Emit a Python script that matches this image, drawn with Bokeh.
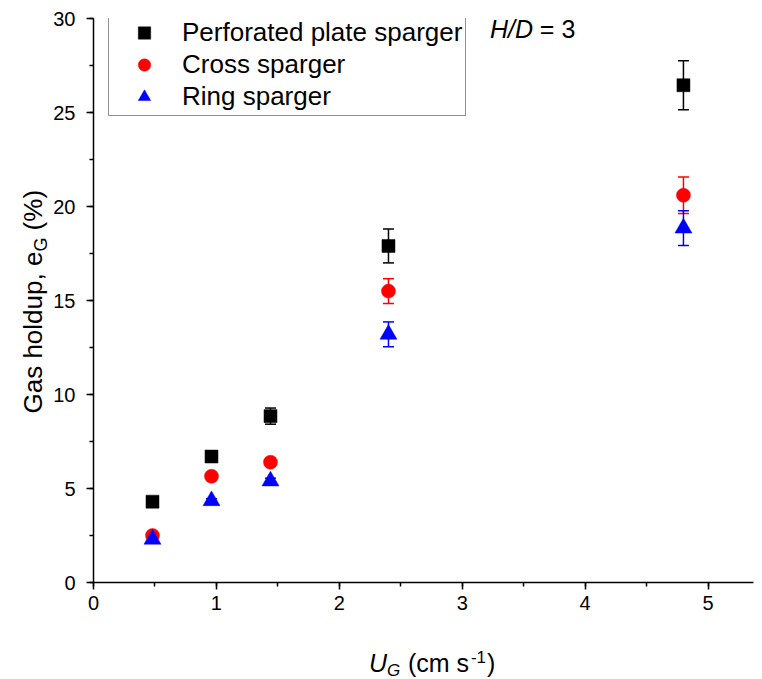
from bokeh.plotting import figure
from bokeh.models import (ColumnDataSource, Whisker, TeeHead, Range1d, Label,
                          SingleIntervalTicker, Legend)
from bokeh.layouts import row, column
from bokeh.embed import file_html
from bokeh.resources import INLINE
import math

# ---- data ----
ug = [0.48, 0.96, 1.44, 2.4, 4.8]
perforated = [4.3, 6.7, 8.85, 17.9, 26.45]
perforated_err = [0.15, 0.2, 0.43, 0.9, 1.3]
cross = [2.5, 5.65, 6.4, 15.5, 20.6]
cross_err = [0.1, 0.15, 0.2, 0.66, 0.97]
ring = [2.3, 4.35, 5.4, 13.2, 18.85]
ring_err = [0.15, 0.1, 0.15, 0.66, 0.93]
series_names = ["Perforated plate sparger", "Cross sparger", "Ring sparger"]

FONT = "Liberation Sans"
NB = "\u00a0"
FIX = 0.36                       # observed baseline offset of labels (em)
TOTAL_W, TOTAL_H = 762, 679
YLAB_W = 50                      # strip for the y-axis title
MAIN_W = TOTAL_W - YLAB_W
MAIN_H = 622
XLAB_H = TOTAL_H - MAIN_H        # strip for the x-axis title
BL, BR, BT = 42, 9, 18
BB = MAIN_H - 582
XMAX, YMAX = 5.37, 30
FRAME_LEFT = YLAB_W + BL         # page x of the plot frame's left edge

p = figure(width=MAIN_W, height=MAIN_H, output_backend="svg",
           toolbar_location=None,
           x_range=Range1d(0, XMAX), y_range=Range1d(0, YMAX),
           min_border_left=BL, min_border_right=BR, min_border_top=BT,
           min_border_bottom=BB)
p.outline_line_color = None
p.xgrid.grid_line_color = None
p.ygrid.grid_line_color = None
p.background_fill_color = "white"
p.border_fill_color = "white"

for ax, interval in ((p.xaxis[0], 1), (p.yaxis[0], 5)):
    ax.ticker = SingleIntervalTicker(interval=interval, num_minor_ticks=2)
    ax.axis_line_width = 1.5
    ax.axis_line_color = "black"
    ax.major_tick_line_width = 1.5
    ax.minor_tick_line_width = 1.5
    ax.major_tick_line_color = "black"
    ax.minor_tick_line_color = "black"
    ax.major_tick_out = 7
    ax.major_tick_in = 0
    ax.minor_tick_out = 4
    ax.minor_tick_in = 0
    ax.major_label_text_font = FONT
    ax.major_label_text_font_size = "20px"
    ax.major_label_text_color = "black"
p.xaxis[0].major_label_standoff = 6
p.yaxis[0].major_label_standoff = 11

specs = [
    (perforated, perforated_err, "square", "black", 13),
    (cross, cross_err, "circle", "red", 14),
    (ring, ring_err, "triangle", "blue", 17),
]
items = []
for (vals, errs, marker, color, size), name in zip(specs, series_names):
    src = ColumnDataSource(dict(
        x=ug, y=vals,
        upper=[v + e for v, e in zip(vals, errs)],
        lower=[v - e for v, e in zip(vals, errs)]))
    w = Whisker(source=src, base="x", upper="upper", lower="lower",
                line_color=color, line_width=1.5,
                upper_head=TeeHead(size=11, line_color=color, line_width=1.5),
                lower_head=TeeHead(size=11, line_color=color, line_width=1.5))
    p.add_layout(w)
    r = p.scatter("x", "y", source=src, marker=marker, size=size,
                  fill_color=color, line_color=color, line_width=0.5)
    items.append((name, [r]))

legend = Legend(items=items, location=(15, 466))
legend.label_text_font = FONT
legend.label_text_font_size = "26px"
legend.label_text_color = "black"
legend.padding = 3
legend.margin = 0
legend.glyph_width = 64
legend.glyph_height = 31
legend.label_height = 31
legend.label_standoff = 6
legend.spacing = 1
legend.border_line_color = "#222222"
legend.border_line_width = 1
legend.background_fill_color = "white"
legend.background_fill_alpha = 1
p.add_layout(legend, "center")

frame_w = MAIN_W - BL - BR
frame_h = MAIN_H - BT - BB


def dx(px):
    return (px - FRAME_LEFT) / frame_w * XMAX


def dy(py):
    return (BT + frame_h - py) / frame_h * YMAX


def add_label(fig, text, x, y, size, style="normal", angle=0.0):
    fig.add_layout(Label(x=x, y=y, text=text, text_font=FONT,
                         text_font_size=f"{size}px", text_font_style=style,
                         text_color="black", text_align="left",
                         text_baseline="alphabetic", angle=angle))


# H/D = 3 (inside the frame; baseline wanted at page y 37)
add_label(p, "H/D", dx(489), dy(37 - FIX * 25), 25, "italic")
add_label(p, NB + "=" + NB + "3", dx(489 + 1722 * 0.025), dy(37 - FIX * 25), 25)


def strip(w, h, bl=0, br=0):
    f = figure(width=w, height=h, output_backend="svg", toolbar_location=None,
               x_range=Range1d(0, w - bl - br), y_range=Range1d(0, h),
               x_axis_type=None, y_axis_type=None,
               min_border_left=bl, min_border_right=br, min_border_top=0,
               min_border_bottom=0)
    f.outline_line_color = None
    f.background_fill_color = "white"
    f.border_fill_color = "white"
    return f


# x-axis title strip: U_G (cm s^-1); its frame lines up with the plot frame,
# so x is measured in pixels from the frame's left edge
xs = strip(MAIN_W, XLAB_H, BL, BR)
base = TOTAL_H - 671             # main baseline at page y 671


def xl(text, px, b, size, style="normal"):
    add_label(xs, text, px - FRAME_LEFT, b + FIX * size, size, style)


xl("U", 368, base, 25, "italic")
xl("G", 386, base - 5, 17, "italic")
xl(NB + "(cm" + NB + "s", 400, base, 25)
xl("-1", 470, base + 8, 17)
xl(")", 486, base, 25)

# y-axis title strip: Gas holdup, e_G (%)
ys = strip(YLAB_W, TOTAL_H)
a = math.pi / 2
y0 = TOTAL_H - 413
l1 = (5670 + 556) * 0.026


def yl(text, bx, py, size):
    add_label(ys, text, bx - FIX * size, py, size, angle=a)


yl("Gas" + NB + "holdup," + NB + "e", 42, y0, 26)
yl("G", 47, y0 + l1, 18)
yl(NB + "(%)", 42, y0 + l1 + 778 * 0.018, 26)

layout = row(ys, column(p, xs, spacing=0), spacing=0)
open("out.html", "w").write(file_html(layout, INLINE))
